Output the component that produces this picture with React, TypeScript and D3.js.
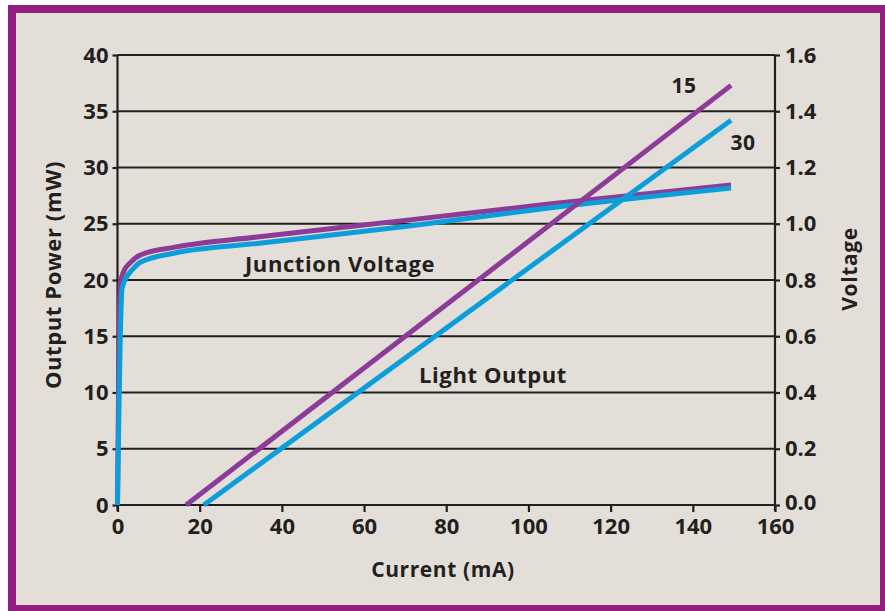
import React, { useRef, useEffect } from "react";
import * as d3 from "d3";

// current (mA)
const currentTicks = [0, 20, 40, 60, 80, 100, 120, 140, 160];
const powerTicks = [0, 5, 10, 15, 20, 25, 30, 35, 40];
const voltTicks = [0, 0.2, 0.4, 0.6, 0.8, 1.0, 1.2, 1.4, 1.6];

// light output (mW) for the two temperatures
const light15 = [
  { x: 16.7, y: 0 },
  { x: 149.3, y: 37.3 },
];
const light30 = [
  { x: 21.0, y: 0 },
  { x: 149.3, y: 34.2 },
];

// junction voltage (V)
const volt15 = [
  { x: 0, y: 0 },
  { x: 0.7, y: 0.79 },
  { x: 1.5, y: 0.83 },
  { x: 3, y: 0.86 },
  { x: 5.7, y: 0.89 },
  { x: 14, y: 0.917 },
  { x: 34, y: 0.953 },
  { x: 70, y: 1.012 },
  { x: 105, y: 1.07 },
  { x: 149.3, y: 1.138 },
];
const volt30 = [
  { x: 0, y: 0 },
  { x: 1.1, y: 0.77 },
  { x: 2.2, y: 0.81 },
  { x: 3.5, y: 0.835 },
  { x: 5.7, y: 0.864 },
  { x: 14, y: 0.896 },
  { x: 34, y: 0.93 },
  { x: 70, y: 0.99 },
  { x: 105, y: 1.056 },
  { x: 149.3, y: 1.127 },
];

const PURPLE = "#8d3b98";
const BLUE = "#0b9edb";
const INK = "#231f20";
const FONT = "'Open Sans', Lato, sans-serif";

const Chart = () => {
  const svgRef = useRef(null);

  useEffect(() => {
    const svg = d3.select(svgRef.current);
    svg.selectAll("*").remove();

    const W = 885;
    const H = 611;
    const margin = { top: 55, right: 110, bottom: 106, left: 117.5 };

    // frame
    svg.append("rect").attr("x", 8).attr("y", 5).attr("width", W - 8).attr("height", H - 5).attr("fill", "#951f7e");
    svg.append("rect").attr("x", 16).attr("y", 13).attr("width", 864).attr("height", 592).attr("fill", "#e3dfd8");

    const x = d3.scaleLinear().domain([0, 160]).range([margin.left, W - margin.right]);
    const yL = d3.scaleLinear().domain([0, 40]).range([H - margin.bottom, margin.top]);
    const yR = d3.scaleLinear().domain([0, 1.6]).range([H - margin.bottom, margin.top]);

    // grid lines
    const grid = svg.append("g");
    powerTicks.forEach((t) => {
      grid
        .append("line")
        .attr("x1", x(0))
        .attr("x2", x(160))
        .attr("y1", yL(t))
        .attr("y2", yL(t))
        .attr("stroke", INK)
        .attr("stroke-width", 2.2);
    });

    // left axis
    const left = svg
      .append("g")
      .attr("transform", `translate(${x(0)},0)`)
      .call(d3.axisLeft(yL).tickValues(powerTicks).tickSize(5).tickPadding(4));
    // right axis
    const right = svg
      .append("g")
      .attr("transform", `translate(${x(160)},0)`)
      .call(d3.axisRight(yR).tickValues(voltTicks).tickSize(5).tickPadding(5).tickFormat(d3.format(".1f")));
    // bottom axis
    const bottom = svg
      .append("g")
      .attr("transform", `translate(0,${yL(0)})`)
      .call(d3.axisBottom(x).tickValues(currentTicks).tickSize(7).tickPadding(6));

    [left, right, bottom].forEach((g) => {
      g.select(".domain").attr("stroke", INK).attr("stroke-width", 2.2);
      g.selectAll(".tick line").attr("stroke", INK).attr("stroke-width", 2.2);
      g.selectAll("text")
        .attr("fill", INK)
        .style("font-family", FONT)
        .style("font-weight", 700)
        .style("font-size", "22px");
    });
    // left/right domain without outer tick ends extending beyond
    left.select(".domain").attr("d", `M0,${yL(40)}V${yL(0) + 6}`);
    right.select(".domain").attr("d", `M0,${yR(1.6)}V${yR(0) + 6}`);
    bottom.select(".domain").attr("d", `M${x(0)},0H${x(160)}`);
    // the 0.0 label sits a touch higher so it clears 160
    right.selectAll(".tick text").filter((d) => d === 0).attr("dy", "0.2em");

    // curves
    const line = (yScale) =>
      d3
        .line()
        .x((d) => x(d.x))
        .y((d) => yScale(d.y))
        .curve(d3.curveMonotoneX);

    const series = [
      { data: volt15, scale: yR, color: PURPLE },
      { data: volt30, scale: yR, color: BLUE },
      { data: light15, scale: yL, color: PURPLE },
      { data: light30, scale: yL, color: BLUE },
    ];
    series.forEach((s) => {
      svg
        .append("path")
        .datum(s.data)
        .attr("d", line(s.scale))
        .attr("fill", "none")
        .attr("stroke", s.color)
        .attr("stroke-width", 5);
    });

    // annotations
    const label = (txt, cx, cy, size = 21) =>
      svg
        .append("text")
        .attr("x", cx)
        .attr("y", cy)
        .attr("text-anchor", "middle")
        .attr("dominant-baseline", "central")
        .attr("fill", INK)
        .style("font-family", FONT)
        .style("font-weight", 700)
        .style("font-size", `${size}px`)
        .style("letter-spacing", "0.6px")
        .text(txt);

    label("Junction Voltage", 340, 263, 22);
    label("Light Output", 493, 374, 22);
    label("15", 684, 85);
    label("30", 743, 142);

    // axis titles
    label("Current (mA)", 443, 569);
    label("Output Power (mW)", 52, 275, 22).attr("transform", "rotate(-90,52,275)");
    label("Voltage", 849, 269).attr("transform", "rotate(-90,849,269)");
  }, []);

  return (
    <svg
      ref={svgRef}
      width={885}
      height={611}
      style={{ position: "absolute", left: 0, top: 0 }}
    ></svg>
  );
};

export default function App() {
  return <Chart />;
}
